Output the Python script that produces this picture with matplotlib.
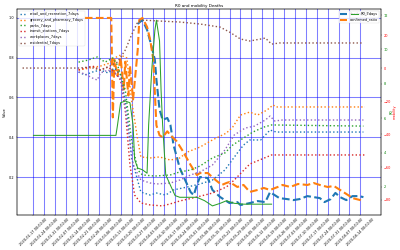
import pandas as pd
import matplotlib
matplotlib.use("Agg")
import matplotlib.pyplot as plt

start = pd.Timestamp("2020-01-17")

# mobility, % change from baseline (day offsets from start)
residential_days = [-7, 29, 36, 43, 49, 54, 59, 63, 67, 70, 81, 94, 107, 120, 126, 133, 139, 146, 149, 153, 158, 212]
residential = [0, 0, 0.6, -1.2, 1.2, 3.6, 10.9, 20, 27.9, 29.1, 28.5, 27.9, 26.7, 24.8, 21.8, 17.6, 16.4, 17.6, 18.2, 14.5, 15.2, 15.2]

retail_days = [29, 33, 38, 43, 48, 52, 56, 60, 63, 69, 75, 79, 85, 90, 99, 107, 115, 123, 131, 135, 139, 146, 152, 156, 212]
retail = [-2.4, -4.2, -2.4, -1.2, -3.0, 0, -4.2, -25.5, -54.5, -75.2, -77, -75.8, -77, -73.9, -72.1, -70.3, -67.9, -61.8, -51.5, -46.7, -43.6, -43.6, -37.6, -38.8, -38.8]

grocery_days = [29, 36, 43, 49, 52, 56, 60, 63, 67, 69, 75, 81, 88, 94, 99, 107, 115, 124, 128, 133, 139, 144, 150, 154, 156, 213]
grocery = [-1.2, 0, 1.2, 3, 6.1, 7.9, 6.1, -19.4, -43.6, -53.9, -54.5, -53.9, -55.8, -54.5, -50.9, -47.9, -43.6, -39.4, -35.8, -28.5, -26.7, -28.5, -25.5, -22.4, -23.6, -23.6]

parks_days = [29, 35, 41, 46, 51, 54, 59, 63, 67, 70, 78, 88, 94, 101, 107, 115, 123, 128, 135, 141, 148, 153, 212]
parks = [3.6, 4.8, 6.7, 3.6, 6.1, 1.8, -13.3, -43.6, -61.8, -64.8, -65.5, -64.8, -63, -61.8, -59.4, -54.5, -51.5, -46.7, -42.4, -38.8, -35.8, -34.5, -35.2]

transit_days = [29, 33, 38, 43, 48, 52, 56, 59, 62, 65, 69, 75, 83, 90, 94, 105, 115, 124, 129, 139, 150, 153, 213]
transit = [-1.2, 0, 1.2, -1.2, 0.6, -2.4, -7.3, -25.5, -58.8, -77, -81.8, -83, -83.6, -81.8, -80.6, -78.2, -75.8, -72.1, -67.9, -58.2, -53.9, -52.7, -52.7]

workplaces_days = [29, 33, 38, 41, 43, 48, 52, 56, 60, 64, 69, 75, 79, 88, 94, 101, 107, 115, 123, 129, 136, 142, 149, 152, 155, 160, 212]
workplaces = [-2.4, -3.6, -6.1, -7.3, -3, -1.2, -3, -6.1, -31.5, -58.8, -67.9, -69.7, -70.3, -69.7, -67.9, -64.8, -63, -58.8, -49.7, -40.6, -36.4, -35.2, -31.5, -29.1, -32.1, -31.5, -31.5]

# R0 (green, own axis)
r0_days = [0, 53, 54, 56, 59, 62, 64, 65, 67, 70, 73, 74, 76, 78, 79, 81, 82, 83, 85, 88, 91, 94, 101, 105, 110, 115, 120, 124, 129, 135, 147, 153]
r0 = [5.0, 5.0, 5.6, 6.9, 7.0, 6.9, 5.6, 3.6, 3.1, 3.0, 2.8, 5.6, 8.8, 11.1, 11.7, 10.5, 7.6, 5.6, 2.7, 2.1, 1.5, 1.4, 1.4, 1.4, 1.2, 0.9, 1.05, 1.2, 1.05, 1.0, 1.0, 1.0]

# normalised series on the left axis
deaths_days = [67, 70, 73, 76, 78, 79, 81, 83, 86, 88, 90, 94, 96, 101, 103, 105, 107, 112, 115, 120, 123, 126, 131, 133, 139, 144, 149, 152, 155, 158, 163, 167, 171, 176, 180, 184, 187, 191, 194, 197, 201, 205, 209, 212]
deaths = [0.97, 0.99, 0.94, 0.854, 0.79, 0.69, 0.54, 0.487, 0.497, 0.462, 0.361, 0.245, 0.21, 0.124, 0.109, 0.16, 0.2, 0.195, 0.135, 0.099, 0.084, 0.069, 0.074, 0.059, 0.069, 0.079, 0.074, 0.124, 0.109, 0.094, 0.089, 0.084, 0.089, 0.104, 0.099, 0.094, 0.074, 0.089, 0.12, 0.099, 0.084, 0.104, 0.104, 0.099]

confirmed_days = [33, 50, 51, 52, 54, 56, 58, 59, 61, 62, 64, 67, 68, 70, 73, 75, 77, 79, 81, 83, 86, 88, 92, 96, 101, 105, 107, 112, 117, 121, 124, 126, 131, 135, 139, 144, 148, 152, 157, 160, 165, 170, 176, 180, 184, 189, 193, 197, 202, 205, 210, 212]
confirmed = [1.0, 1.0, 0.5, 0.79, 0.71, 0.8, 0.64, 0.78, 0.61, 0.76, 0.59, 0.84, 0.99, 1.0, 0.955, 0.89, 0.79, 0.46, 0.41, 0.4, 0.43, 0.41, 0.38, 0.33, 0.26, 0.21, 0.22, 0.22, 0.185, 0.16, 0.17, 0.175, 0.15, 0.16, 0.125, 0.135, 0.145, 0.135, 0.15, 0.16, 0.15, 0.165, 0.16, 0.17, 0.16, 0.15, 0.155, 0.135, 0.11, 0.094, 0.084, 0.074]

week_ticks = pd.date_range("2020-01-17", "2020-08-14", freq="7D")


def to_dates(days):
    return start + pd.to_timedelta(days, unit="D")


fig, ax = plt.subplots(figsize=(16, 10), dpi=25)
fig.subplots_adjust(left=0.042, right=0.9525, bottom=0.14, top=0.964)

ax.plot(to_dates(deaths_days), deaths, "--", color="C0", linewidth=6, label="deaths_7days")
ax.plot(to_dates(confirmed_days), confirmed, "--", color="C1", linewidth=6, label="confirmed_ratio")
ax.set_ylabel("Value")
ax.set_ylim(0.009, 1.045)
ax.set_title("R0 and mobility Deaths")
ax.set_xticks(week_ticks)
ax.set_xticklabels([str(t) for t in week_ticks], rotation=45)
ax.set_xlim(start - pd.Timedelta(days=10.7), start + pd.Timedelta(days=223.3))
ax.grid(color="blue", alpha=0.5, linewidth=3)
ax.legend(loc="upper right")

ax2 = ax.twinx()
ax2.plot(to_dates(retail_days), retail, ":", color="C0", linewidth=4, label="retail_and_recreation_7days")
ax2.plot(to_dates(grocery_days), grocery, ":", color="C1", linewidth=4, label="grocery_and_pharmacy_7days")
ax2.plot(to_dates(parks_days), parks, ":", color="C2", linewidth=4, label="parks_7days")
ax2.plot(to_dates(transit_days), transit, ":", color="C3", linewidth=4, label="transit_stations_7days")
ax2.plot(to_dates(workplaces_days), workplaces, ":", color="C4", linewidth=4, label="workplaces_7days")
ax2.plot(to_dates(residential_days), residential, ":", color="C5", linewidth=4, label="residential_7days")
ax2.set_ylim(-89.1, 35.8)
ax2.set_ylabel("mobility", color="red")
ax2.tick_params(axis="y", labelcolor="red")
ax2.legend(loc="upper left")

ax3 = ax.twinx()
ax3.plot(to_dates(r0_days), r0, "-", color="C2", linewidth=3, label="R0_7days")
ax3.set_ylim(0.37, 12.35)
ax3.set_ylabel("R0", color="green")
ax3.tick_params(axis="y", labelcolor="green")
ax3.legend(loc="upper right")

fig.savefig("out.png", dpi=25)
